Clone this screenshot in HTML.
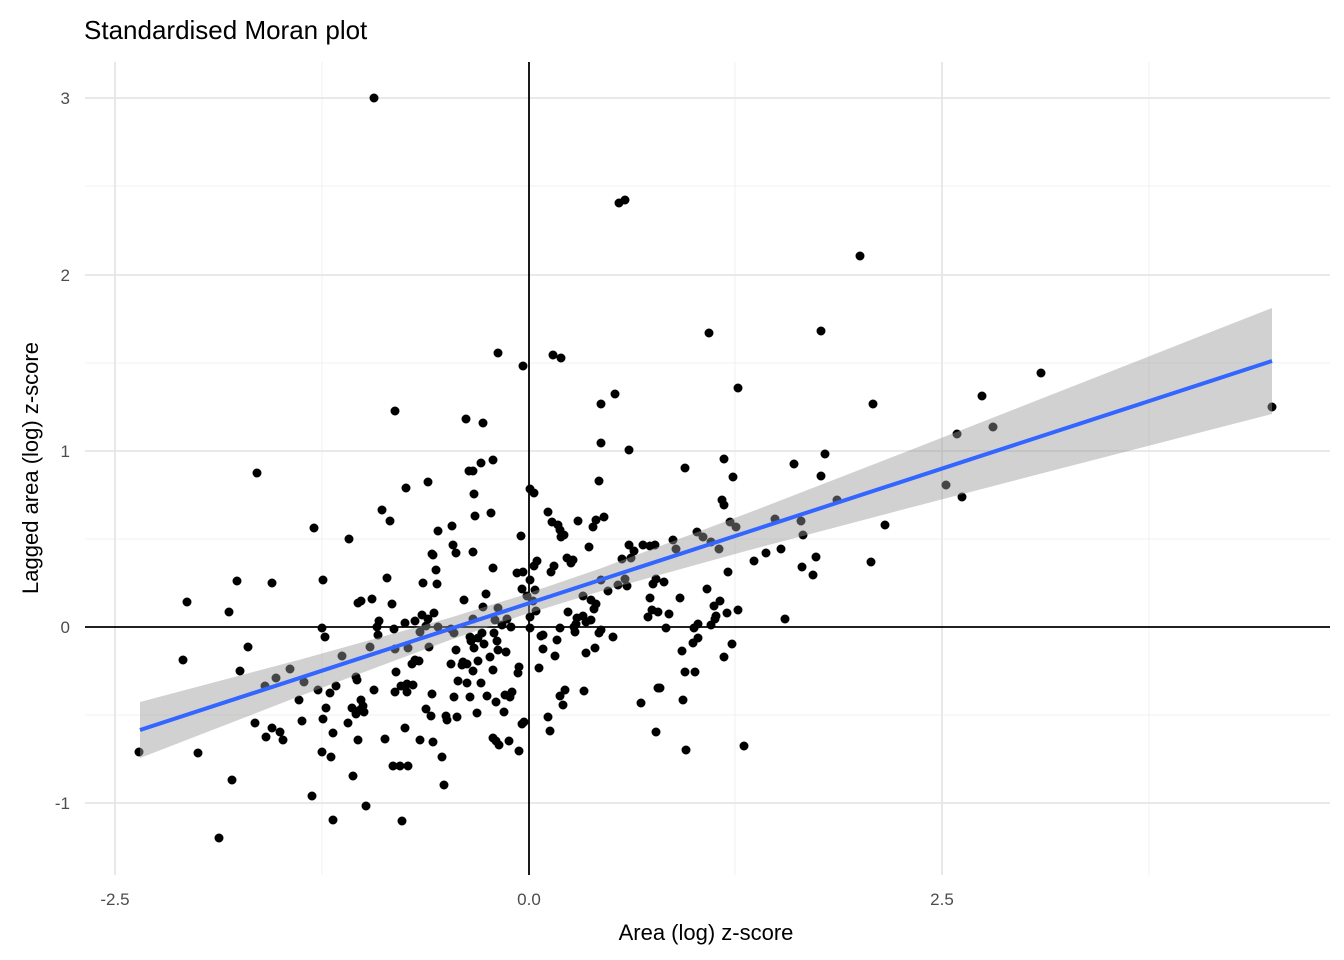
<!DOCTYPE html>
<html><head><meta charset="utf-8"><style>body{margin:0;background:#fff}svg{display:block}</style></head>
<body>
<svg width="1344" height="960" xmlns="http://www.w3.org/2000/svg" font-family="Liberation Sans, sans-serif">
<rect width="1344" height="960" fill="#fff"/>
<g stroke="#f1f1f1" stroke-width="1">
<line x1="322" y1="62" x2="322" y2="875"/><line x1="735" y1="62" x2="735" y2="875"/><line x1="1149" y1="62" x2="1149" y2="875"/>
<line x1="85" y1="186" x2="1330" y2="186"/><line x1="85" y1="363" x2="1330" y2="363"/><line x1="85" y1="539" x2="1330" y2="539"/><line x1="85" y1="715" x2="1330" y2="715"/>
</g>
<g stroke="#e6e6e6" stroke-width="1.8">
<line x1="115" y1="62" x2="115" y2="875"/><line x1="942" y1="62" x2="942" y2="875"/>
<line x1="85" y1="98" x2="1330" y2="98"/><line x1="85" y1="275" x2="1330" y2="275"/><line x1="85" y1="451" x2="1330" y2="451"/><line x1="85" y1="803" x2="1330" y2="803"/>
</g>
<line x1="529" y1="62" x2="529" y2="875" stroke="#000" stroke-width="1.8"/>
<line x1="85" y1="627" x2="1330" y2="627" stroke="#000" stroke-width="1.8"/>
<path fill="none" stroke="#000" stroke-width="9" stroke-linecap="round" d="M374 98h0M619 203h0M625 200h0M860 256h0M709 333h0M821 331h0M498 353h0M553 355h0M561 358h0M523 366h0M1041 373h0M738 388h0M615 394h0M982 396h0M395 411h0M1272 407h0M873 404h0M601 404h0M466 419h0M483 423h0M993 427h0M957 434h0M601 443h0M257 473h0M469 471h0M473 471h0M629 450h0M493 460h0M481 463h0M724 459h0M825 454h0M685 468h0M733 477h0M599 481h0M794 464h0M821 476h0M946 485h0M962 497h0M530 489h0M534 493h0M406 488h0M428 482h0M474 494h0M837 500h0M722 500h0M724 505h0M548 512h0M552 522h0M558 525h0M560 530h0M564 535h0M578 521h0M604 517h0M596 520h0M593 527h0M491 513h0M521 536h0M438 531h0M452 526h0M453 545h0M475 516h0M382 510h0M390 521h0M314 528h0M349 539h0M775 519h0M730 522h0M736 527h0M801 521h0M885 525h0M711 542h0M673 540h0M697 532h0M629 545h0M631 558h0M634 551h0M643 545h0M650 546h0M655 545h0M622 559h0M676 549h0M703 537h0M719 549h0M589 547h0M573 560h0M561 537h0M567 558h0M537 561h0M534 566h0M554 566h0M551 572h0M571 563h0M523 572h0M517 573h0M473 552h0M493 568h0M432 554h0M436 570h0M456 553h0M766 553h0M781 549h0M754 561h0M728 572h0M625 579h0M653 584h0M608 591h0M664 582h0M650 598h0M680 598h0M658 612h0M652 610h0M669 614h0M648 617h0M666 628h0M714 606h0M716 616h0M711 625h0M802 567h0M816 557h0M803 535h0M813 575h0M871 562h0M785 619h0M694 628h0M698 624h0M698 638h0M724 657h0M732 644h0M693 643h0M682 651h0M641 703h0M656 732h0M658 688h0M660 688h0M685 672h0M695 672h0M686 750h0M744 746h0M583 596h0M591 600h0M596 604h0M594 609h0M583 616h0M576 624h0M586 622h0M568 612h0M574 627h0M575 632h0M577 618h0M591 620h0M601 630h0M613 637h0M595 648h0M586 653h0M599 633h0M560 628h0M557 640h0M555 656h0M584 691h0M560 696h0M563 705h0M543 635h0M539 668h0M548 717h0M550 731h0M530 580h0M535 590h0M533 601h0M536 611h0M530 617h0M522 589h0M527 596h0M507 619h0M511 627h0M498 608h0M495 620h0M486 594h0M483 607h0M464 600h0M473 619h0M451 629h0M478 638h0M482 633h0M494 633h0M502 625h0M497 641h0M484 644h0M471 641h0M474 648h0M490 657h0M498 650h0M493 670h0M467 664h0M463 662h0M473 671h0M478 661h0M451 664h0M456 650h0M458 681h0M467 683h0M481 683h0M454 697h0M457 717h0M446 716h0M426 709h0M447 720h0M431 716h0M432 694h0M413 685h0M401 686h0M407 692h0M415 660h0M419 661h0M412 664h0M408 648h0M429 647h0M420 632h0M426 626h0M438 627h0M428 619h0M422 615h0M415 621h0M434 613h0M392 604h0M387 578h0M405 623h0M394 629h0M379 621h0M377 627h0M361 601h0M372 599h0M358 603h0M323 580h0M322 628h0M325 637h0M342 656h0M370 647h0M378 635h0M395 649h0M423 583h0M437 584h0M433 555h0M374 690h0M395 692h0M396 672h0M407 684h0M356 677h0M357 680h0M336 686h0M304 682h0M318 690h0M330 693h0M326 708h0M323 719h0M348 723h0M361 700h0M356 714h0M352 708h0M360 710h0M363 706h0M364 712h0M333 733h0M358 740h0M385 739h0M405 728h0M400 766h0M408 766h0M393 766h0M322 752h0M331 757h0M302 721h0M299 700h0M290 669h0M265 686h0M276 678h0M266 737h0M272 728h0M280 732h0M283 740h0M255 723h0M240 671h0M248 647h0M229 612h0M237 581h0M272 583h0M187 602h0M183 660h0M139 752h0M198 753h0M232 780h0M219 838h0M312 796h0M333 820h0M366 806h0M402 821h0M353 776h0M433 742h0M442 757h0M444 785h0M420 740h0M509 741h0M519 751h0M496 741h0M499 745h0M493 738h0M524 722h0M522 724h0M504 712h0M496 702h0M510 697h0M519 667h0M506 652h0M487 696h0M512 692h0M543 649h0M530 628h0M541 636h0M601 580h0M627 586h0M656 579h0M707 589h0M715 619h0M720 601h0M727 613h0M738 610h0M618 585h0M683 700h0M505 695h0M518 673h0M565 690h0M454 633h0M462 665h0M470 697h0M477 713h0M470 637h0"/>
<polygon fill="#999" fill-opacity="0.45" points="140,702 300,659.6 450,617.8 520,596 600,568.6 750,512.3 900,454.1 1050,395.3 1200,336.3 1272,308 1272,414 1200,432.5 1050,471.3 900,510.3 750,549.9 600,591.4 520,616 450,640 300,696 140,758"/>
<line x1="140" y1="730" x2="1272" y2="361" stroke="#3366ff" stroke-width="4"/>
<g font-size="17" fill="#4d4d4d" text-anchor="middle">
<text x="115" y="905">-2.5</text><text x="529" y="905">0.0</text><text x="942" y="905">2.5</text>
</g>
<g font-size="17" fill="#4d4d4d" text-anchor="end">
<text x="70" y="104">3</text><text x="70" y="281">2</text><text x="70" y="457">1</text><text x="70" y="633">0</text><text x="70" y="809">-1</text>
</g>
<text x="706" y="940" font-size="22" text-anchor="middle" fill="#000">Area (log) z-score</text>
<text transform="translate(38,468) rotate(-90)" font-size="22" text-anchor="middle" fill="#000">Lagged area (log) z-score</text>
<text x="84" y="39" font-size="26" fill="#000">Standardised Moran plot</text>
</svg>
</body></html>
